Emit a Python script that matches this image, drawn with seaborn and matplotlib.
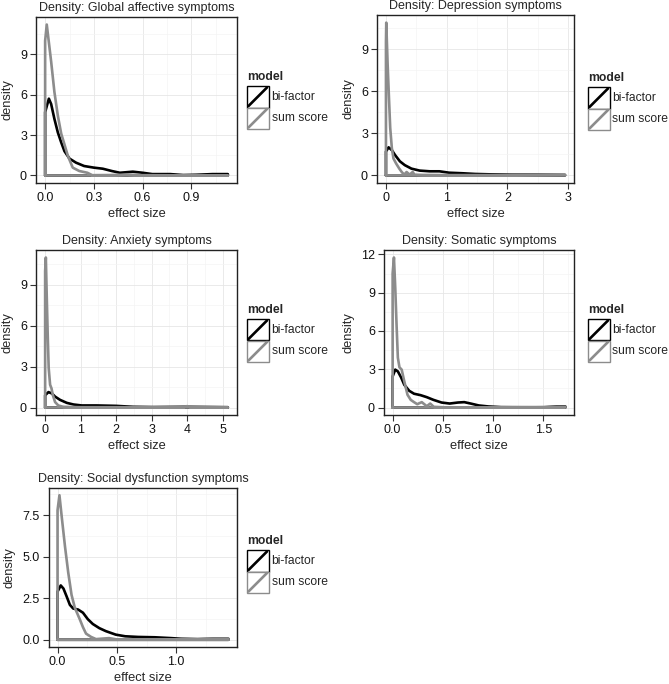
import numpy as np
import pandas as pd
import matplotlib
matplotlib.use("Agg")
import matplotlib.pyplot as plt
import seaborn as sns
from matplotlib.patches import Rectangle
from matplotlib.lines import Line2D
from matplotlib.ticker import FixedLocator, AutoMinorLocator

sns.set_style("white")
plt.rcParams['font.family'] = ['Liberation Sans', 'DejaVu Sans']

# ---------------- data ----------------
models = ["bi-factor", "sum score"]
titles = ["Density: Global affective symptoms", "Density: Depression symptoms",
          "Density: Anxiety symptoms", "Density: Somatic symptoms",
          "Density: Social dysfunction symptoms"]

global_bi_x = [0.0, 0.023, 0.037, 0.057, 0.078, 0.099, 0.119, 0.15, 0.19, 0.24, 0.30, 0.355, 0.41, 0.46,
               0.54, 0.60, 0.66, 0.77, 0.85, 0.93, 1.03, 1.125]
global_bi_y = [4.7, 5.7, 5.3, 4.2, 3.2, 2.45, 1.8, 1.25, 0.95, 0.7, 0.58, 0.5, 0.33, 0.2,
               0.28, 0.2, 0.1, 0.1, 0.03, 0.05, 0.1, 0.1]
global_sum_x = [0.0, 0.01, 0.037, 0.057, 0.078, 0.099, 0.119, 0.14, 0.17, 0.21, 0.26, 0.29, 0.40, 0.50,
                0.60, 0.80, 1.0, 1.125]
global_sum_y = [10.0, 11.2, 8.45, 6.2, 4.45, 3.1, 2.3, 1.45, 0.58, 0.33, 0.2, 0.02, 0.03, 0.06,
                0.02, 0.01, 0.01, 0.01]

dep_bi_x = [0.0, 0.043, 0.097, 0.15, 0.23, 0.31, 0.42, 0.555, 0.72, 0.88, 1.04, 1.26, 1.47, 1.74,
            2.06, 2.5, 2.95]
dep_bi_y = [1.7, 2.0, 1.8, 1.45, 1.0, 0.73, 0.48, 0.34, 0.29, 0.29, 0.19, 0.15, 0.1, 0.07,
            0.05, 0.05, 0.03]
dep_sum_x = [0.0, 0.005, 0.027, 0.049, 0.07, 0.097, 0.124, 0.167, 0.22, 0.26, 0.30, 0.34, 0.39, 0.44,
             0.47, 0.6, 1.0, 1.5, 2.0, 2.5, 2.95]
dep_sum_y = [9.5, 10.9, 8.0, 5.6, 3.4, 1.94, 1.2, 0.85, 0.48, 0.24, 0.05, 0.24, 0.05, 0.24,
             0.05, 0.03, 0.02, 0.02, 0.02, 0.04, 0.04]

anx_bi_x = [0.0, 0.094, 0.19, 0.28, 0.42, 0.61, 0.80, 1.03, 1.45, 2.0, 2.48, 3.04, 3.98, 5.15]
anx_bi_y = [0.9, 1.13, 1.03, 0.8, 0.56, 0.34, 0.22, 0.15, 0.15, 0.12, 0.05, 0.03, 0.05, 0.02]
anx_sum_x = [0.0, 0.02, 0.047, 0.075, 0.10, 0.14, 0.18, 0.215, 0.28, 0.37, 0.51, 1.0, 2.0, 3.0, 3.9,
             4.0, 4.1, 5.15]
anx_sum_y = [10.0, 11.0, 8.0, 5.1, 2.9, 1.67, 1.4, 0.93, 0.4, 0.15, 0.05, 0.02, 0.02, 0.02, 0.03,
             0.1, 0.03, 0.02]

som_bi_x = [0.0, 0.026, 0.052, 0.084, 0.116, 0.165, 0.213, 0.277, 0.34, 0.406, 0.487, 0.568, 0.65,
            0.713, 0.777, 0.858, 0.955, 1.08, 1.5, 1.63, 1.72]
som_bi_y = [2.44, 2.97, 2.83, 2.36, 1.78, 1.31, 1.08, 0.97, 0.81, 0.6, 0.39, 0.31, 0.39,
            0.42, 0.31, 0.16, 0.08, 0.03, 0.01, 0.08, 0.08]
som_sum_x = [0.0, 0.013, 0.026, 0.039, 0.052, 0.068, 0.09, 0.116, 0.148, 0.18, 0.213, 0.245, 0.29,
             0.34, 0.374, 0.41, 0.535, 0.8, 1.15, 1.63, 1.72]
som_sum_y = [10.5, 11.76, 9.4, 6.5, 3.9, 3.15, 2.97, 2.05, 1.0, 0.6, 0.42, 0.26, 0.42,
             0.1, 0.31, 0.05, 0.01, 0.01, 0.01, 0.05, 0.05]

soc_bi_x = [0.0, 0.027, 0.05, 0.077, 0.104, 0.132, 0.173, 0.214, 0.255, 0.297, 0.352, 0.407, 0.49,
            0.57, 0.68, 0.82, 0.956, 1.04, 1.18, 1.31, 1.44]
soc_bi_y = [2.9, 3.27, 3.08, 2.6, 2.1, 1.88, 1.82, 1.63, 1.24, 0.95, 0.7, 0.52, 0.31,
            0.21, 0.17, 0.15, 0.1, 0.06, 0.04, 0.06, 0.06]
soc_sum_x = [0.0, 0.016, 0.036, 0.063, 0.09, 0.118, 0.146, 0.187, 0.214, 0.24, 0.283, 0.324, 0.434,
             0.5, 0.8, 1.1, 1.3, 1.44]
soc_sum_y = [7.8, 8.7, 7.35, 5.6, 4.05, 2.7, 1.92, 1.24, 0.76, 0.37, 0.17, 0.04, 0.1,
             0.02, 0.01, 0.01, 0.05, 0.05]

x_ticks = [[0.0, 0.3, 0.6, 0.9], [0, 1, 2, 3], [0, 1, 2, 3, 4, 5], [0.0, 0.5, 1.0, 1.5], [0.0, 0.5, 1.0]]
x_ticklabels = [["0.0", "0.3", "0.6", "0.9"], ["0", "1", "2", "3"], ["0", "1", "2", "3", "4", "5"],
                ["0.0", "0.5", "1.0", "1.5"], ["0.0", "0.5", "1.0"]]
y_ticks = [[0, 3, 6, 9], [0, 3, 6, 9], [0, 3, 6, 9], [0, 3, 6, 9, 12], [0.0, 2.5, 5.0, 7.5]]
y_ticklabels = [["0", "3", "6", "9"], ["0", "3", "6", "9"], ["0", "3", "6", "9"],
                ["0", "3", "6", "9", "12"], ["0.0", "2.5", "5.0", "7.5"]]

curves = [
    (global_bi_x, global_bi_y, global_sum_x, global_sum_y),
    (dep_bi_x, dep_bi_y, dep_sum_x, dep_sum_y),
    (anx_bi_x, anx_bi_y, anx_sum_x, anx_sum_y),
    (som_bi_x, som_bi_y, som_sum_x, som_sum_y),
    (soc_bi_x, soc_bi_y, soc_sum_x, soc_sum_y),
]

# ---------------- layout ----------------
W, H = 669, 684
fig = plt.figure(figsize=(W / 100, H / 100), dpi=100)
fig.patch.set_facecolor("white")

# panel boxes in pixels: left, top, right, bottom
boxes = [(36, 17, 237, 183), (377, 15, 574, 183), (36, 250, 237, 415),
         (384, 250, 574, 415), (49, 488, 237, 647)]
# legend origin (left, center of "model" title) in pixels
legends = [(247, 77), (588, 78), (247, 310), (588, 310), (247, 541)]

colors = {"bi-factor": "#000000", "sum score": "#8c8c8c"}
LW = 1.9
FS = 9.0


def outline(xs, ys):
    px = [xs[0]] + list(xs) + [xs[-1], xs[0]]
    py = [0.0] + list(ys) + [0.0, 0.0]
    return px, py


for i, (l, t, r, b) in enumerate(boxes):
    ax = fig.add_axes([l / W, 1 - b / H, (r - l) / W, (b - t) / H])
    bx, by, sx, sy = curves[i]
    for name, xs, ys in [("bi-factor", bx, by), ("sum score", sx, sy)]:
        px, py = outline(xs, ys)
        df = pd.DataFrame({"effect size": px, "density": py})
        sns.lineplot(data=df, x="effect size", y="density", sort=False, estimator=None,
                     color=colors[name], lw=LW, ax=ax, solid_joinstyle="round")
    ax.margins(0.05)
    ax.xaxis.set_major_locator(FixedLocator(x_ticks[i]))
    ax.yaxis.set_major_locator(FixedLocator(y_ticks[i]))
    ax.set_xticklabels(x_ticklabels[i], fontsize=FS, color="#111111")
    ax.set_yticklabels(y_ticklabels[i], fontsize=FS, color="#111111")
    ax.xaxis.set_minor_locator(AutoMinorLocator(2))
    ax.yaxis.set_minor_locator(AutoMinorLocator(2))
    ax.grid(True, which="major", color="#e6e6e6", lw=0.6)
    ax.grid(True, which="minor", color="#f4f4f4", lw=0.5)
    ax.set_axisbelow(True)
    ax.tick_params(which="major", length=4, width=0.8, color="#333333", pad=2.5,
                   bottom=True, left=True, direction="out")
    ax.tick_params(which="minor", length=0)
    for s in ax.spines.values():
        s.set_color("#222222")
        s.set_linewidth(1.0)
    ax.set_xlabel("effect size", fontsize=9.3, labelpad=3)
    ax.set_ylabel("density", fontsize=9.3, labelpad=5)
    ax.set_title(titles[i], fontsize=FS, pad=4)

    # legend (drawn by hand in pixel coordinates)
    lx, ly = legends[i]
    fig.text(lx / W, 1 - ly / H, "model", fontsize=8.7, fontweight="bold", va="center", ha="left")
    ks = 21.5
    for j, name in enumerate(models):
        top = ly + 9 + j * ks
        rect = Rectangle((lx / W, 1 - (top + ks) / H), ks / W, ks / H, transform=fig.transFigure,
                         facecolor="white", edgecolor=colors[name], lw=1.0)
        fig.add_artist(rect)
        ln = Line2D([(lx + 1.5) / W, (lx + ks - 1.5) / W],
                    [1 - (top + ks - 1.5) / H, 1 - (top + 1.5) / H],
                    transform=fig.transFigure, color=colors[name], lw=LW)
        fig.add_artist(ln)
        fig.text((lx + ks + 3) / W, 1 - (top + ks / 2) / H, name, fontsize=8.7,
                 va="center", ha="left")

fig.savefig("out.png", dpi=100, facecolor="white")
